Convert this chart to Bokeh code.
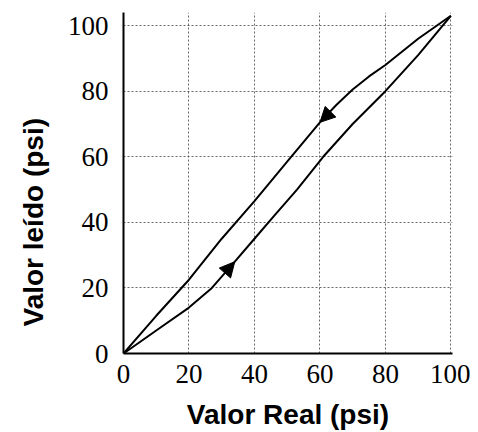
import math
from bokeh.plotting import figure
from bokeh.models import FixedTicker, Title, Arrow, NormalHead, Range1d
from bokeh.embed import file_html
from bokeh.resources import INLINE

# Curva ascendente (carga) y descendente (descarga)
lower_x = [0, 10, 20, 27, 34, 40, 46, 53, 61, 70, 80, 90, 97.5, 100]
lower_y = [0, 7, 14, 20, 28, 35, 42, 50, 60, 70, 80, 91, 100, 103]
upper_x = [0, 10, 20, 30, 40, 50, 60, 65, 70, 75, 80, 90, 100]
upper_y = [0, 11.5, 22.5, 35, 46.5, 58.5, 70.5, 75.8, 80.5, 84.5, 88, 96, 103]
ticks = [0, 20, 40, 60, 80, 100]
x_title = "Valor Real (psi)"
y_title = "Valor leído (psi)"

p = figure(width=470, height=432, output_backend="svg", toolbar_location=None,
           x_range=Range1d(0, 100.5), y_range=Range1d(0, 104),
           min_border_left=123, min_border_right=18, min_border_top=12, min_border_bottom=78)
p.outline_line_color = None
p.background_fill_color = "white"

p.line(lower_x, lower_y, line_color="black", line_width=2)
p.line(upper_x, upper_y, line_color="black", line_width=2)

# arrow heads placed on the curves
p.add_layout(Arrow(end=NormalHead(size=15, fill_color="black", line_color="black"),
                   x_start=lower_x[3], y_start=lower_y[3], x_end=lower_x[4], y_end=lower_y[4],
                   line_alpha=0))
p.add_layout(Arrow(end=NormalHead(size=15, fill_color="black", line_color="black"),
                   x_start=upper_x[8], y_start=upper_y[8], x_end=upper_x[6], y_end=upper_y[6],
                   line_alpha=0))

for ax in (p.xaxis, p.yaxis):
    ax.ticker = FixedTicker(ticks=ticks)
    ax.axis_line_color = "black"
    ax.axis_line_width = 2
    ax.major_tick_out = 0
    ax.major_tick_in = 0
    ax.minor_tick_out = 0
    ax.minor_tick_in = 0
    ax.major_label_text_font = "Liberation Serif"
    ax.major_label_text_font_size = "27px"
    ax.major_label_text_color = "black"

p.yaxis.major_label_standoff = 15
p.xaxis.major_label_standoff = 11
p.xaxis.axis_label = x_title
p.xaxis.axis_label_text_font = "Liberation Sans"
p.xaxis.axis_label_text_font_style = "bold"
p.xaxis.axis_label_text_font_size = "28px"
p.xaxis.axis_label_text_color = "black"
p.xaxis.axis_label_standoff = 13

for g in (p.xgrid, p.ygrid):
    g.ticker = FixedTicker(ticks=ticks)
    g.grid_line_color = "#444444"
    g.grid_line_dash = "2 2"
    g.grid_line_width = 1
    g.grid_line_alpha = 0.8

p.add_layout(Title(text=y_title, align="left", offset=27,
                   text_font="Liberation Sans", text_font_style="bold",
                   text_font_size="28px", text_color="black", standoff=31), "left")

open("out.html", "w").write(file_html(p, INLINE))
